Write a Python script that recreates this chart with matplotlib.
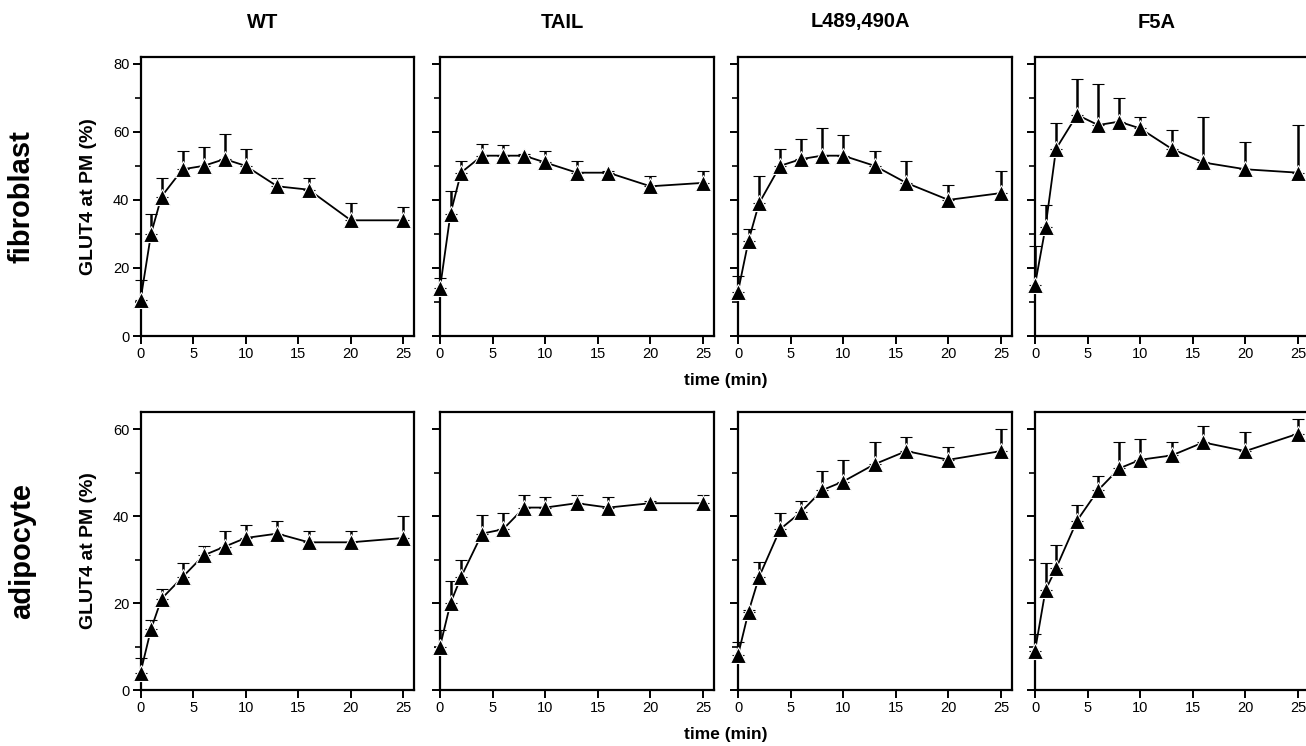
import numpy as np
import matplotlib
matplotlib.use('Agg')
import matplotlib.pyplot as plt
from matplotlib.ticker import MultipleLocator

plt.rcParams['font.family'] = ['Liberation Sans', 'DejaVu Sans']

# sampling times (min)
time_min = [0, 1, 2, 4, 6, 8, 10, 13, 16, 20, 25]
constructs = ['WT', 'TAIL', 'L489,490A', 'F5A']
cell_types = ['fibroblast', 'adipocyte']

# fibroblast: GLUT4 at PM (%) and upper error bar
fib_wt = [10.5, 30, 41, 49, 50, 52, 50, 44, 43, 34, 34]
fib_wt_err = [6, 6, 5.5, 5.5, 5.5, 7.5, 5, 2.5, 3.5, 5, 4]
fib_tail = [14, 36, 48, 53, 53, 53, 51, 48, 48, 44, 45]
fib_tail_err = [3, 6.5, 3.5, 3.5, 3, 0.5, 3.5, 3.5, 0.5, 3, 3.5]
fib_l489 = [13, 28, 39, 50, 52, 53, 53, 50, 45, 40, 42]
fib_l489_err = [4.5, 3.5, 8, 5, 6, 8, 6, 4.5, 6.5, 4.5, 6.5]
fib_f5a = [15, 32, 55, 65, 62, 63, 61, 55, 51, 49, 48]
fib_f5a_err = [11.5, 6.5, 7.5, 10.5, 12, 7, 3.5, 5.5, 13.5, 8, 14]

# adipocyte
adi_wt = [4, 14, 21, 26, 31, 33, 35, 36, 34, 34, 35]
adi_wt_err = [3.3, 2.2, 2.2, 3.3, 2.2, 3.6, 3, 2.8, 2.7, 2.5, 5]
adi_tail = [10, 20, 26, 36, 37, 42, 42, 43, 42, 43, 43]
adi_tail_err = [3.7, 5, 4, 4.4, 3.8, 2.8, 2.4, 1.9, 2.4, 0.5, 1.8]
adi_l489 = [8, 18, 26, 37, 41, 46, 48, 52, 55, 53, 55]
adi_l489_err = [3, 0.5, 3.5, 3.8, 2.5, 4.4, 5, 5, 3.2, 3, 5]
adi_f5a = [9, 23, 28, 39, 46, 51, 53, 54, 57, 55, 59]
adi_f5a_err = [4, 6.3, 5.4, 3.6, 3.3, 6, 4.7, 3.1, 3.8, 4.3, 3.3]

rows = [
    [(fib_wt, fib_wt_err), (fib_tail, fib_tail_err),
     (fib_l489, fib_l489_err), (fib_f5a, fib_f5a_err)],
    [(adi_wt, adi_wt_err), (adi_tail, adi_tail_err),
     (adi_l489, adi_l489_err), (adi_f5a, adi_f5a_err)],
]
row_ylim = [(0, 82), (0, 64)]

W, H = 1306, 746
fig = plt.figure(figsize=(W / 100, H / 100), dpi=100)

panel_left = [140.5, 440, 738, 1035]   # px
panel_w = 273.5
row_top = [57, 412]
row_h = [279, 278]

for r in range(2):
    for c in range(4):
        x0 = panel_left[c] / W
        y0 = 1 - (row_top[r] + row_h[r]) / H
        ax = fig.add_axes([x0, y0, panel_w / W, row_h[r] / H])
        vals, errs = rows[r][c]
        ax.errorbar(time_min, vals, yerr=[np.zeros(len(errs)), errs],
                    color='black', lw=1.3, marker='^', ms=11,
                    mec='white', mew=0.8, elinewidth=1.8,
                    capsize=4.5, capthick=1.8, clip_on=False, zorder=3)
        ax.set_xlim(0, 26)
        ax.set_ylim(*row_ylim[r])
        ax.xaxis.set_major_locator(MultipleLocator(5))
        ax.yaxis.set_major_locator(MultipleLocator(20))
        ax.yaxis.set_minor_locator(MultipleLocator(10))
        for s in ax.spines.values():
            s.set_linewidth(1.6)
        ax.tick_params(which='major', direction='out', length=6, width=1.4,
                       labelsize=10.5, pad=2)
        ax.tick_params(which='minor', direction='out', length=4, width=1.2)
        if c > 0:
            ax.set_yticklabels([])
        if r == 0:
            fig.text((panel_left[c] + 122) / W, 1 - 22 / H, constructs[c],
                     ha='center', va='center', fontsize=14.5,
                     fontweight='bold')

    # row label, y label and shared x label
    yc = 1 - (row_top[r] + row_h[r] / 2) / H
    fig.text(22 / W, yc, cell_types[r], rotation=90, ha='center', va='center',
             fontsize=21, fontweight='bold')
    fig.text(89 / W, yc, 'GLUT4 at PM (%)', rotation=90, ha='center',
             va='center', fontsize=14, fontweight='bold')
    fig.text(726 / W, 1 - (row_top[r] + row_h[r] + 45) / H, 'time (min)',
             ha='center', va='center', fontsize=12.5, fontweight='bold')

fig.savefig('out.png', dpi=100)
